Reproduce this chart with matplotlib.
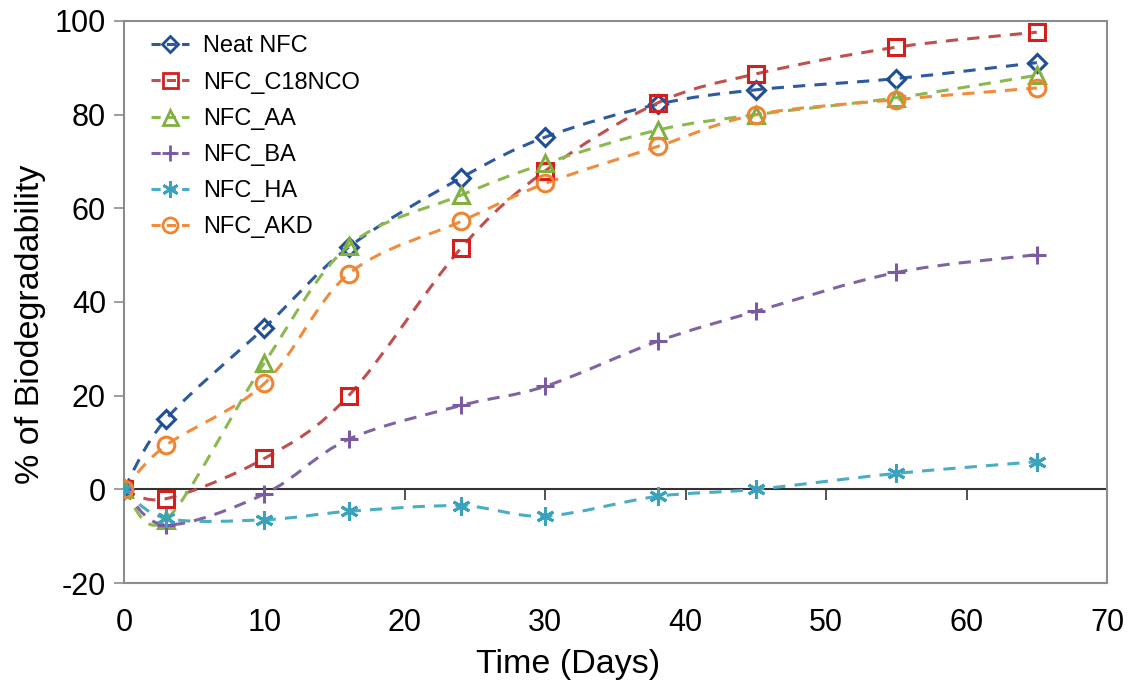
import numpy as np
import matplotlib
matplotlib.use('Agg')
import matplotlib.pyplot as plt
from matplotlib.path import Path
from matplotlib.patches import PathPatch
from matplotlib.lines import Line2D

plt.rcParams['font.family'] = ['Liberation Sans', 'DejaVu Sans']
plt.rcParams['axes.unicode_minus'] = False

days = [0, 3, 10, 16, 24, 30, 38, 45, 55, 65]

neat_nfc = [0, 15, 34.5, 51.7, 66.5, 75.2, 82.2, 85.3, 87.7, 91.1]
nfc_c18nco = [0, -2, 6.6, 20, 51.5, 68, 82.5, 88.7, 94.4, 97.6]
nfc_aa = [0, -6.5, 27, 52, 62.8, 69.6, 76.7, 80, 83.6, 88.4]
nfc_ba = [0, -7.6, -1, 10.7, 17.9, 22, 31.6, 38, 46.3, 50.1]
nfc_ha = [0, -6.2, -6.5, -4.7, -3.5, -5.7, -1.5, 0, 3.4, 5.9]
nfc_akd = [0, 9.4, 22.6, 46, 57.2, 65.3, 73.2, 80, 83.2, 85.7]

labels = ['Neat NFC', 'NFC_C18NCO', 'NFC_AA', 'NFC_BA', 'NFC_HA', 'NFC_AKD']
series = [neat_nfc, nfc_c18nco, nfc_aa, nfc_ba, nfc_ha, nfc_akd]
line_colors = ['#2D5B9E', '#C0504D', '#8DB850', '#8064A2', '#4BACC6', '#F08C3C']
marker_colors = ['#1F4E96', '#D41F1F', '#82B040', '#7A5BA3', '#3BA2BE', '#EE8533']
markers = ['D', 's', '^', '+', (6, 2, 0), 'o']
msizes = [9.5, 12, 12, 13, 13, 12]


def smooth_path(x, y):
    # excel style smoothed line: bezier segments through the points
    pts = np.column_stack([x, y]).astype(float)
    n = len(pts)
    verts = [pts[0]]
    codes = [Path.MOVETO]
    for i in range(n - 1):
        p0 = pts[i - 1] if i > 0 else pts[i]
        p1 = pts[i]
        p2 = pts[i + 1]
        p3 = pts[i + 2] if i + 2 < n else pts[i + 1]
        c1 = p1 + (p2 - p0) / 6.0
        c2 = p2 - (p3 - p1) / 6.0
        verts += [c1, c2, p2]
        codes += [Path.CURVE4] * 3
    return Path(verts, codes)


fig = plt.figure(figsize=(11.31, 6.83), dpi=100)
ax = fig.add_axes([0.1096, 0.1464, 0.8692, 0.8229])

handles = []
for i in range(len(series)):
    patch = PathPatch(smooth_path(days, series[i]), facecolor='none',
                      edgecolor=line_colors[i], lw=2.2, linestyle=(0, (4, 3)),
                      zorder=2)
    ax.add_patch(patch)
    ax.plot(days, series[i], linestyle='none', marker=markers[i],
            markersize=msizes[i], markerfacecolor='none',
            markeredgecolor=marker_colors[i], markeredgewidth=2.2, zorder=3)
    handles.append(Line2D([], [], color=line_colors[i], lw=2.2,
                          linestyle=(0, (3, 2)), marker=markers[i],
                          markersize=msizes[i] * 0.9, markerfacecolor='none',
                          markeredgecolor=marker_colors[i], markeredgewidth=2))

ax.set_xlim(0, 70)
ax.set_ylim(-20, 100)
ax.set_xticks(np.arange(0, 71, 10))
ax.set_yticks(np.arange(-20, 101, 20))

for s in ax.spines.values():
    s.set_color('#8C8C8C')
    s.set_linewidth(1.5)

ax.tick_params(axis='y', direction='out', length=7, width=1.2, color='#8C8C8C',
               labelsize=22, pad=6)
ax.tick_params(axis='x', length=0, labelsize=22, pad=18)

# zero line with its own ticks
sec = ax.secondary_xaxis(20 / 120)
sec.set_xticks(np.arange(0, 71, 10))
sec.tick_params(direction='out', length=8, width=1.2, color='#333333',
                labelbottom=False, labeltop=False)
sec.spines['bottom'].set_color('#333333')
sec.spines['bottom'].set_linewidth(1.5)

ax.set_xlabel('Time (Days)', fontsize=24.5)
ax.set_ylabel('% of Biodegradability', fontsize=24.5)
ax.xaxis.set_label_coords(0.4517, -0.117)
ax.yaxis.set_label_coords(-0.079, 0.461)

ax.legend(handles, labels, loc='upper left', bbox_to_anchor=(0.006, 1.012),
          frameon=False, fontsize=17, handlelength=1.6, handletextpad=0.6,
          labelspacing=0.6)

fig.savefig('out.png', dpi=100)
